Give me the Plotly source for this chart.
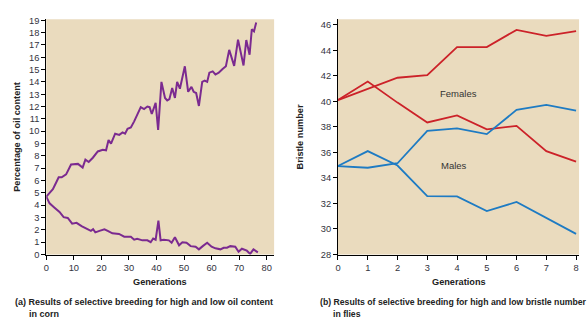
import plotly.graph_objects as go

# ---- Data: (a) oil content in corn ----
high_gen = [0, 1.2, 2.4, 3.5, 4.5, 5.6, 7.2, 9, 11.5, 13.2, 14.2, 15.4, 16.9, 18.7, 20.5, 21.7, 22.6, 23.5, 25, 26.5,
            27.7, 28.6, 29.5, 30.7, 31.9, 34.3, 35.5, 36.7, 37.5, 38.3, 39.7, 40.6, 41.8, 43.1, 43.9, 44.7, 45.7, 46.7,
            47.5, 48.5, 50.3, 51.5, 52.7, 53.5, 54.4, 55.4, 56.6, 57.5, 58.4, 59.2, 60.4, 61.4, 62.6, 64, 65.2, 66.4,
            68.2, 69.6, 71.6, 72.6, 73.8, 74.6, 75.4, 76.2]
high_oil = [4.7, 5.0, 5.3, 5.8, 6.26, 6.26, 6.5, 7.3, 7.35, 7.05, 7.7, 7.5, 7.85, 8.36, 8.5, 8.45, 9.28, 9.0, 9.8, 9.7,
            9.9, 9.8, 10.2, 10.3, 10.8, 11.96, 11.8, 12.0, 11.95, 11.4, 12.3, 10.1, 14.0, 12.7, 12.5, 12.6, 13.5, 12.7,
            14.0, 13.45, 15.27, 13.2, 13.6, 13.2, 13.1, 12.05, 14.0, 14.1, 14.0, 14.75, 14.85, 14.6, 14.75, 15.05, 15.27,
            16.6, 15.3, 17.43, 15.33, 17.4, 16.2, 18.27, 18.1, 18.82]
low_gen = [0, 1.2, 3, 4.8, 6.3, 7.8, 9.4, 11, 12.8, 14.7, 16.2, 17, 17.8, 19.3, 21.1, 22.3, 24, 26.4, 28.3, 30.7,
           31.9, 33, 34.9, 36.7, 37.9, 38.8, 39.7, 40.7, 41.5, 42.7, 44.5, 45.5, 46.7, 48.2, 49.4, 50.9, 52.4, 54.2,
           55.4, 56.8, 58.4, 60, 61.4, 63.2, 64.4, 65.6, 66.8, 68.6, 69.8, 71, 72.8, 74, 75.2, 76.8]
low_oil = [4.7, 4.15, 3.8, 3.45, 3.03, 2.97, 2.5, 2.57, 2.3, 2.1, 1.92, 2.05, 1.8, 1.92, 2.05, 1.92, 1.72, 1.67, 1.45, 1.45,
           1.2, 1.28, 1.15, 1.15, 1.0, 1.3, 1.2, 2.75, 1.15, 1.2, 1.15, 0.95, 1.4, 0.75, 1.0, 0.95, 0.68, 0.63, 0.42, 0.68,
           0.95, 0.63, 0.5, 0.42, 0.55, 0.55, 0.68, 0.63, 0.23, 0.47, 0.31, 0.05, 0.42, 0.18]

# ---- Data: (b) bristle number in flies ----
fly_gen = [0, 1, 2, 3, 4, 5, 6, 7, 8]
female_high = [40.1, 41.0, 41.85, 42.05, 44.25, 44.25, 45.6, 45.13, 45.5]
female_low = [40.1, 41.55, 39.9, 38.35, 38.9, 37.8, 38.08, 36.1, 35.28]
male_high = [34.93, 34.8, 35.15, 37.68, 37.88, 37.43, 39.33, 39.73, 39.28]
male_low = [34.93, 36.1, 34.97, 32.58, 32.55, 31.4, 32.12, 30.88, 29.62]

left_xticks = list(range(0, 81, 10))
left_yticks = list(range(0, 20))
right_xticks = list(range(0, 9))
right_yticks = list(range(28, 47, 2))

W, H = 588, 332
PURPLE = "#7B2A90"
RED = "#CC2229"
BLUE = "#1E7BC3"
BG = "#EADBBE"
FONT = "Liberation Sans, Arial, sans-serif"
TICKC = "#333340"

fig = go.Figure()
fig.add_trace(go.Scatter(x=high_gen, y=high_oil, mode="lines", line=dict(color=PURPLE, width=2),
                         xaxis="x", yaxis="y", showlegend=False))
fig.add_trace(go.Scatter(x=low_gen, y=low_oil, mode="lines", line=dict(color=PURPLE, width=2),
                         xaxis="x", yaxis="y", showlegend=False))
for ys, col in [(female_high, RED), (female_low, RED), (male_high, BLUE), (male_low, BLUE)]:
    fig.add_trace(go.Scatter(x=fly_gen, y=ys, mode="lines", line=dict(color=col, width=1.8),
                             xaxis="x2", yaxis="y2", showlegend=False))

def px_x(p):
    return p / W

def px_y(p):
    return 1 - p / H

axis_common = dict(showline=True, linecolor="black", linewidth=1, ticks="outside", ticklen=4,
                   tickcolor="black", tickwidth=1, showgrid=False, zeroline=False,
                   tickfont=dict(family=FONT, size=9.3, color=TICKC), fixedrange=True)

L0, L1 = 43.5, 272.5
R0, R1 = 336.7, 579.0
T, B = 15.7, 257.5

fig.update_layout(
    width=W, height=H, margin=dict(l=0, r=0, t=0, b=0),
    paper_bgcolor="white", plot_bgcolor=BG,
    xaxis=dict(domain=[px_x(L0), px_x(L1)], range=[0, 82.7], tickvals=left_xticks, anchor="y", **axis_common),
    yaxis=dict(domain=[px_y(B), px_y(T)], range=[0, 19.08], tickvals=left_yticks, anchor="x", **axis_common),
    xaxis2=dict(domain=[px_x(R0), px_x(R1)], range=[0, 8.1], tickvals=right_xticks, anchor="y2", **axis_common),
    yaxis2=dict(domain=[px_y(B), px_y(T)], range=[28, 46.43], tickvals=right_yticks, anchor="x2", **axis_common),
)

def ann(text, x, y, size=9.2, bold=True, angle=0, xanchor="center", color="#222222"):
    fig.add_annotation(text=f"<b>{text}</b>" if bold else text, x=px_x(x), y=px_y(y), xref="paper", yref="paper",
                       showarrow=False, textangle=angle, xanchor=xanchor, yanchor="middle",
                       font=dict(family=FONT, size=size, color=color))

ann("Percentage of oil content", 14, (T + B) / 2, angle=-90)
ann("Bristle number", 298, (T + B) / 2, angle=-90)
ann("Generations", (L0 + L1) / 2, 286)
ann("Generations", (R0 + R1) / 2, 286)
ann("(a) Results of selective breeding for high and low oil content", 10, 306.5, size=9.0, xanchor="left")
ann("in corn", 24.5, 319, size=9.0, xanchor="left")
ann("(b) Results of selective breeding for high and low bristle number", 316.5, 306.5, size=8.7, xanchor="left")
ann("in flies", 330, 319, size=8.7, xanchor="left")

fig.add_annotation(text="Females", x=4.05, y=40.6, xref="x2", yref="y2", showarrow=False,
                   font=dict(family=FONT, size=9.5, color="#333333"))
fig.add_annotation(text="Males", x=3.9, y=35.0, xref="x2", yref="y2", showarrow=False,
                   font=dict(family=FONT, size=9.5, color="#333333"))

fig.write_html("out.html")
